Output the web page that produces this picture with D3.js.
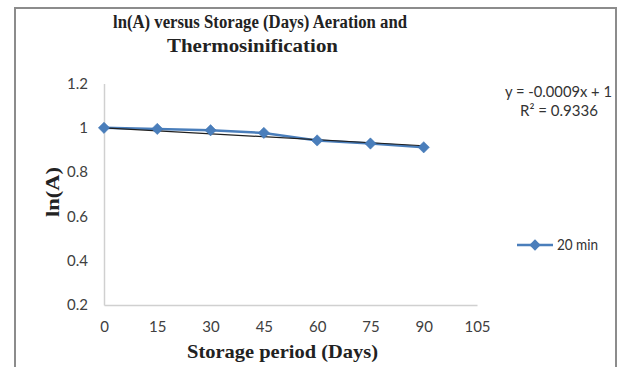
<!DOCTYPE html>
<html><head><meta charset="utf-8">
<script src="https://cdn.jsdelivr.net/npm/d3@7"></script>
<style>body{margin:0;background:#fff}</style>
</head><body>
<svg id="c" width="618" height="367"></svg>
<script>
const days = [0, 15, 30, 45, 60, 75, 90];
const lnA = [1.0, 0.995, 0.989, 0.977, 0.943, 0.929, 0.912];
const xTicks = [0, 15, 30, 45, 60, 75, 90, 105];
const yTicks = [0.2, 0.4, 0.6, 0.8, 1.0, 1.2];
const seriesName = "20 min";
const trendSlope = -0.0009;
const trendIntercept = 1;
const titleLines = ["ln(A) versus Storage (Days) Aeration and", "Thermosinification"];
const eqLines = ["y = -0.0009x + 1", "R\u00B2 = 0.9336"];

const svg = d3.select("#c");
svg.append("rect").attr("x", 15).attr("y", 8).attr("width", 601).attr("height", 370)
  .attr("fill", "#fff").attr("stroke", "#8c8c8c").attr("stroke-width", 2);

const x = d3.scaleLinear().domain([0, 105]).range([104, 477]);
const y = d3.scaleLinear().domain([0.2, 1.2]).range([305, 83.5]);

const sans = "Lato, Carlito, 'Liberation Sans', sans-serif";
const serif = "'Liberation Serif', 'Times New Roman', serif";

// axes
const xAxis = svg.append("g").attr("transform", "translate(0,305)")
  .call(d3.axisBottom(x).tickValues(xTicks).tickSize(0).tickPadding(16));
const yAxis = svg.append("g").attr("transform", "translate(104,0)")
  .call(d3.axisLeft(y).tickValues(yTicks).tickSize(0).tickPadding(16).tickFormat(d3.format("~g")));
[xAxis, yAxis].forEach(g => {
  g.select(".domain").attr("stroke", "#d0d0d0").attr("stroke-width", 1.5);
  g.selectAll("text").attr("font-family", sans).attr("font-size", 15).attr("fill", "#404040");
});

// series
const pts = days.map((d, i) => [d, lnA[i]]);
svg.append("path").datum(pts)
  .attr("d", d3.line().x(d => x(d[0])).y(d => y(d[1])))
  .attr("fill", "none").attr("stroke", "#4a7ebb").attr("stroke-width", 2.5);

// linear trendline from the displayed equation
const tr = [days[0], days[days.length - 1]].map(d => [d, trendIntercept + trendSlope * d]);
svg.append("path").datum(tr)
  .attr("d", d3.line().x(d => x(d[0])).y(d => y(d[1])))
  .attr("fill", "none").attr("stroke", "#1f1f1f").attr("stroke-width", 1.2);

const diamond = d3.symbol().type(d3.symbolSquare).size(64);
svg.selectAll(".m").data(pts).enter().append("path")
  .attr("transform", d => `translate(${x(d[0])},${y(d[1])}) rotate(45)`)
  .attr("d", diamond).attr("fill", "#4a7ebb").attr("stroke", "#3f74b3").attr("stroke-width", 0.5);

// title
const tl = [294, 171];
svg.append("g").selectAll("text").data(titleLines).enter().append("text")
  .attr("x", (d, i) => i === 0 ? 113 : 167).attr("y", (d, i) => 28 + i * 24)
  .attr("textLength", (d, i) => tl[i]).attr("lengthAdjust", "spacingAndGlyphs")
  .attr("font-family", serif).attr("font-weight", "bold")
  .attr("font-size", 18).attr("fill", "#222").text(d => d);

// axis titles
svg.append("text").attr("x", 187).attr("y", 358)
  .attr("textLength", 191).attr("lengthAdjust", "spacingAndGlyphs")
  .attr("font-family", serif).attr("font-weight", "bold").attr("font-size", 19).attr("fill", "#222")
  .text("Storage period (Days)");
svg.append("text").attr("transform", "translate(59,217) rotate(-90)")
  .attr("textLength", 50).attr("lengthAdjust", "spacingAndGlyphs")
  .attr("font-family", serif).attr("font-weight", "bold").attr("font-size", 19).attr("fill", "#222")
  .text("ln(A)");

// equation
const el = [107, 78];
svg.append("g").selectAll("text").data(eqLines).enter().append("text")
  .attr("x", (d, i) => i === 0 ? 505 : 520).attr("y", (d, i) => 97 + i * 19)
  .attr("textLength", (d, i) => el[i]).attr("lengthAdjust", "spacingAndGlyphs")
  .attr("font-family", sans).attr("font-size", 15).attr("fill", "#333").text(d => d);

// legend
const lg = svg.append("g");
lg.append("line").attr("x1", 517).attr("x2", 553).attr("y1", 245).attr("y2", 245)
  .attr("stroke", "#4a7ebb").attr("stroke-width", 2.5);
lg.append("path").attr("transform", "translate(535,245) rotate(45)").attr("d", diamond).attr("fill", "#4a7ebb");
lg.append("text").attr("x", 557).attr("y", 250).attr("textLength", 41).attr("lengthAdjust", "spacingAndGlyphs")
  .attr("font-family", sans).attr("font-size", 14.5)
  .attr("fill", "#333").text(seriesName);
</script>
</body></html>
